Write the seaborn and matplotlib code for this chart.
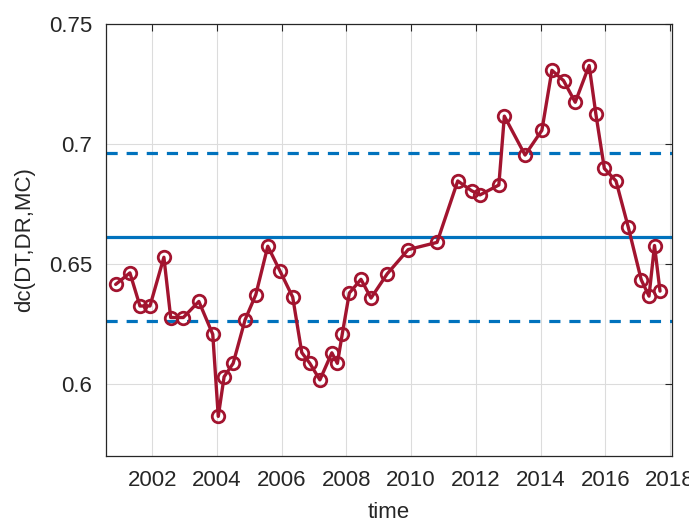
import numpy as np
import pandas as pd
import matplotlib
matplotlib.use("Agg")
import matplotlib.pyplot as plt
import seaborn as sns

# values
years = [2000.87, 2001.31, 2001.62, 2001.93, 2002.36, 2002.57, 2002.96, 2003.44,
         2003.87, 2004.04, 2004.22, 2004.50, 2004.87, 2005.20, 2005.57, 2005.95,
         2006.34, 2006.62, 2006.87, 2007.18, 2007.55, 2007.72, 2007.87, 2008.09,
         2008.45, 2008.76, 2009.26, 2009.91, 2010.80, 2011.44, 2011.87, 2012.13,
         2012.71, 2012.88, 2013.52, 2014.04, 2014.35, 2014.71, 2015.07, 2015.50,
         2015.71, 2015.97, 2016.33, 2016.71, 2017.11, 2017.35, 2017.52, 2017.69]
dc = [0.6415, 0.6463, 0.6325, 0.6325, 0.6528, 0.6277, 0.6277, 0.6344,
      0.6207, 0.5865, 0.6030, 0.6086, 0.6268, 0.6372, 0.6574, 0.6470,
      0.6362, 0.6131, 0.6086, 0.6017, 0.6130, 0.6086, 0.6207, 0.6379,
      0.6436, 0.6358, 0.6459, 0.6560, 0.6590, 0.6846, 0.6805, 0.6788,
      0.6829, 0.7116, 0.6954, 0.7057, 0.7307, 0.7264, 0.7174, 0.7327,
      0.7123, 0.6898, 0.6846, 0.6653, 0.6434, 0.6366, 0.6577, 0.6387]
mean_level = 0.6612
upper_level = 0.6963
lower_level = 0.6263

df = pd.DataFrame({'time': years, 'dc': dc})

sns.set_style('white')
plt.rcParams['font.family'] = ['Liberation Sans', 'DejaVu Sans']

fig = plt.figure(figsize=(6.89, 5.26), dpi=100)
ax = fig.add_axes([0.1538, 0.1331, 0.8215, 0.8213])

blue = '#0072BD'
red = '#A2142F'

ax.axhline(mean_level, color=blue, lw=2.3, zorder=2)
ax.axhline(upper_level, color=blue, lw=2.3, ls=(0, (3.5, 2.8)), zorder=2)
ax.axhline(lower_level, color=blue, lw=2.3, ls=(0, (3.5, 2.8)), zorder=2)

sns.lineplot(data=df, x='time', y='dc', ax=ax, color=red, lw=2.4,
             marker='o', markersize=9, markerfacecolor='none',
             markeredgecolor=red, markeredgewidth=2.0, zorder=3)

ax.set_xlim(2000.57, 2018.06)
ax.set_ylim(0.57, 0.75)
ax.set_xticks(range(2002, 2019, 2))
ax.set_yticks([0.6, 0.65, 0.7, 0.75])
ax.set_yticklabels(['0.6', '0.65', '0.7', '0.75'])

ax.grid(True, color='#dcdcdc', lw=0.8)
ax.set_axisbelow(True)
for s in ax.spines.values():
    s.set_color('#262626')
    s.set_linewidth(0.9)
ax.tick_params(direction='in', length=5, width=0.8, top=True, right=True,
               labelsize=16, colors='#262626', pad=10)

ax.set_xlabel('time', fontsize=16, color='#262626', labelpad=8)
ax.set_ylabel('dc(DT,DR,MC)', fontsize=16, color='#262626', labelpad=10)

fig.savefig('out.png', dpi=100)
